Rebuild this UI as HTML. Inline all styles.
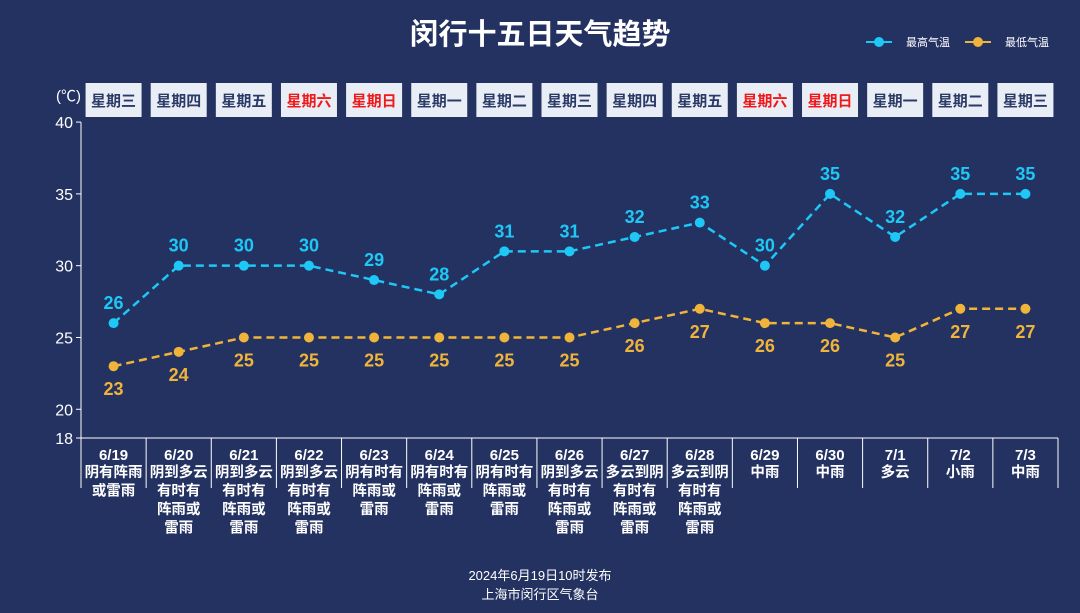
<!DOCTYPE html>
<html><head><meta charset="utf-8"><style>
body{margin:0;background:#243262;}
svg{display:block;font-family:"Liberation Sans","Noto Sans CJK SC",sans-serif;}
</style></head><body>
<svg id="c" width="1080" height="613" viewBox="0 0 1080 613">
<rect width="1080" height="613" fill="#243262"/>
<text x="540" y="44" text-anchor="middle" font-size="29" font-weight="bold" fill="#fff">闵行十五日天气趋势</text>
<g><line x1="866" y1="42" x2="892" y2="42" stroke="#1ec8f6" stroke-width="2"/><circle cx="879" cy="42" r="5" fill="#1ec8f6"/><text x="906" y="46" font-size="11" fill="#fff">最高气温</text></g>
<g><line x1="965" y1="42" x2="991" y2="42" stroke="#f0b43a" stroke-width="2"/><circle cx="978" cy="42" r="5" fill="#f0b43a"/><text x="1005" y="46" font-size="11" fill="#fff">最低气温</text></g>
<text x="56" y="101" font-size="15" fill="#fff">(℃)</text>
<g id="g"></g>
<text x="540" y="580" text-anchor="middle" font-size="13" fill="#fff">2024年6月19日10时发布</text>
<text x="540" y="599" text-anchor="middle" font-size="13" fill="#fff">上海市闵行区气象台</text>
</svg>
<script>
const dates=["6/19","6/20","6/21","6/22","6/23","6/24","6/25","6/26","6/27","6/28","6/29","6/30","7/1","7/2","7/3"];
const weekdays=["星期三","星期四","星期五","星期六","星期日","星期一","星期二","星期三","星期四","星期五","星期六","星期日","星期一","星期二","星期三"];
const weather=[["阴有阵雨","或雷雨"],["阴到多云","有时有","阵雨或","雷雨"],["阴到多云","有时有","阵雨或","雷雨"],["阴到多云","有时有","阵雨或","雷雨"],["阴有时有","阵雨或","雷雨"],["阴有时有","阵雨或","雷雨"],["阴有时有","阵雨或","雷雨"],["阴到多云","有时有","阵雨或","雷雨"],["多云到阴","有时有","阵雨或","雷雨"],["多云到阴","有时有","阵雨或","雷雨"],["中雨"],["中雨"],["多云"],["小雨"],["中雨"]];
const highs=[26,30,30,30,29,28,31,31,32,33,30,35,32,35,35];
const lows=[23,24,25,25,25,25,25,25,26,27,26,26,25,27,27];
const yTicks=[18,20,25,30,35,40];
const NS="http://www.w3.org/2000/svg",g=document.getElementById('g');
const x0=81,x1=1058,bw=(x1-x0)/dates.length;
const X=i=>x0+bw*(i+0.5), Y=v=>438-(v-18)*14.36;
function el(t,a,txt){const e=document.createElementNS(NS,t);for(const k in a)e.setAttribute(k,a[k]);if(txt!=null)e.textContent=txt;g.appendChild(e);return e;}
let e=el('line',{x1:x0,y1:Y(40),x2:x0,y2:438,stroke:"#fff","stroke-width":1});

yTicks.forEach(v=>{let t=el('line',{x1:x0-5,y1:Y(v),x2:x0,y2:Y(v),stroke:"#fff"});
t=el('text',{x:x0-8,y:Y(v)+6,"text-anchor":"end","font-size":16,fill:"#fff"},v);
});
e=el('line',{x1:x0,y1:438,x2:x1,y2:438,stroke:"#fff"});

for(let i=0;i<=dates.length;i++){el('line',{x1:x0+bw*i,y1:438,x2:x0+bw*i,y2:488,stroke:"#fff"});}
dates.forEach((d,i)=>{
 let r=el('rect',{x:X(i)-28,y:83,width:56,height:34,fill:"#e9edf6"});
 
 const we=weekdays[i]=="星期六"||weekdays[i]=="星期日";
 let t=el('text',{x:X(i),y:106,"text-anchor":"middle","font-size":15,"font-weight":"bold",fill:we?"#f01818":"#2b3a66"},weekdays[i]);
 
 t=el('text',{x:X(i),y:460,"text-anchor":"middle","font-size":15,"font-weight":"bold",fill:"#fff"},d);
 
 weather[i].forEach((w,j)=>{let u=el('text',{x:X(i),y:477+j*18.5,"text-anchor":"middle","font-size":14.5,"font-weight":"bold",fill:"#fff"},w);
 });
});
function series(vals,col,name,dy){
 let p=el('polyline',{points:vals.map((v,i)=>X(i)+","+Y(v)).join(" "),fill:"none",stroke:col,"stroke-width":2.5,"stroke-dasharray":"8,5"});
 
 vals.forEach((v,i)=>{let c=el('circle',{cx:X(i),cy:Y(v),r:5,fill:col});
 
 let t=el('text',{x:X(i),y:Y(v)+dy,"text-anchor":"middle","font-size":18,"font-weight":"bold",fill:col},v);
 });
}
series(highs,"#1ec8f6","high-temp",-14);
series(lows,"#f0b43a","low-temp",29);
</script>
</body></html>
